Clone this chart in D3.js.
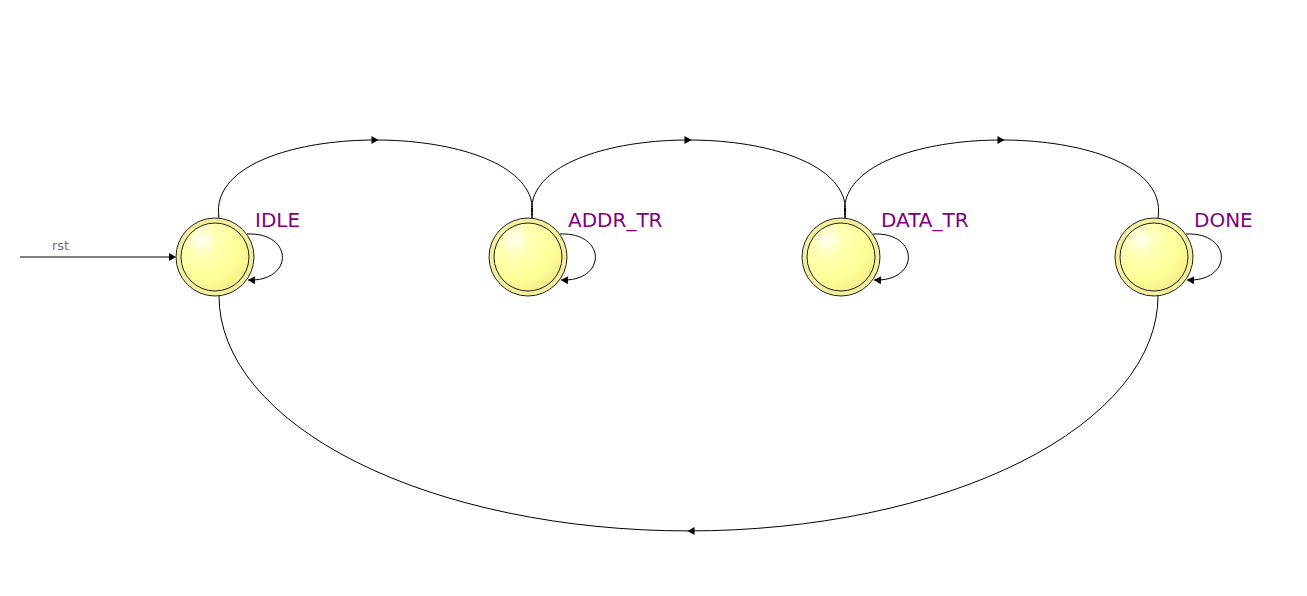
<!DOCTYPE html>
<html>
<head>
<meta charset="utf-8">
<script src="https://cdn.jsdelivr.net/npm/d3@7"></script>
<style>
  body { margin: 0; background: #fff; }
  svg { display: block; }
</style>
</head>
<body>
<script>
// states of the fsm, left to right
var states = ["IDLE", "ADDR_TR", "DATA_TR", "DONE"];
// transitions between states (from, to)
var transitions = [["IDLE", "ADDR_TR"], ["ADDR_TR", "DATA_TR"], ["DATA_TR", "DONE"], ["DONE", "IDLE"]];
// states with a self loop
var selfLoops = ["IDLE", "ADDR_TR", "DATA_TR", "DONE"];
// reset entry
var resetLabel = "rst";
var resetState = "IDLE";

var width = 1307;
var height = 596;
var cy = 257;
var rOuter = 39, rInner = 34;

var svg = d3.select("body").append("svg")
  .attr("width", width)
  .attr("height", height);

var xScale = d3.scalePoint()
  .domain(states)
  .range([215, 1154]);

// fill gradient of the state bubbles
var defs = svg.append("defs");
var grad = defs.append("radialGradient")
  .attr("id", "bubble")
  .attr("cx", "30%").attr("cy", "25%").attr("r", "80%");
grad.append("stop").attr("offset", "0%").attr("stop-color", "#fffff2");
grad.append("stop").attr("offset", "30%").attr("stop-color", "#ffffb4");
grad.append("stop").attr("offset", "70%").attr("stop-color", "#ffff99");
grad.append("stop").attr("offset", "100%").attr("stop-color", "#f6f18a");

var arrowHead = function(g, x, y, angle)
{
  g.append("path")
    .attr("d", "M0,0 L-7,-4 L-7,4 Z")
    .attr("fill", "#000")
    .attr("transform", "translate(" + x + "," + y + ") rotate(" + angle + ")");
}

var edges = svg.append("g").attr("fill", "none").attr("stroke", "#000").attr("stroke-width", 1);
var heads = svg.append("g");

transitions.forEach(function(t)
{
  var xa = xScale(t[0]) + 4;
  var xb = xScale(t[1]) + 4;
  if (xb > xa)
  {
    // forward arc over the top
    var y0 = cy - rOuter;
    edges.append("path")
      .attr("d", "M" + xa + "," + y0 + " C" + (xa - 17) + ",114 " + (xb + 17) + ",114 " + xb + "," + y0);
    arrowHead(heads, (xa + xb) / 2 + 3, 140, 0);
  }
  else
  {
    // return arc underneath
    var y1 = cy + rOuter;
    var rx = (xa - xb) / 2;
    edges.append("path")
      .attr("d", "M" + xa + "," + y1 + " A" + rx + " 235 0 0 1 " + xb + "," + y1);
    arrowHead(heads, (xa + xb) / 2 - 1, y1 + 235, 180);
  }
});

// self loops on the right side
selfLoops.forEach(function(s)
{
  var cx = xScale(s);
  edges.append("path")
    .attr("d", "M" + (cx + 32) + "," + (cy - 23) + " C" + (cx + 79) + "," + (cy - 25) + " " + (cx + 79) + "," + (cy + 25) + " " + (cx + 33) + "," + (cy + 23));
  arrowHead(heads, cx + 33, cy + 23, 180 + Math.atan2(2, 46) * 180 / Math.PI);
});

// reset arrow
var rx0 = xScale(resetState) - rOuter;
edges.append("line")
  .attr("x1", 20).attr("y1", cy)
  .attr("x2", rx0 - 4).attr("y2", cy);
arrowHead(heads, rx0, cy, 0);
svg.append("text")
  .attr("x", 52).attr("y", 250)
  .attr("font-family", "DejaVu Sans, sans-serif")
  .attr("font-size", 13)
  .attr("fill", "#707070")
  .text(resetLabel);

// state bubbles
var nodes = svg.selectAll(".state")
  .data(states)
  .enter().append("g")
  .attr("class", "state")
  .attr("transform", function(d){ return "translate(" + xScale(d) + "," + cy + ")"; });

nodes.append("circle")
  .attr("r", rOuter)
  .attr("fill", "#f4ef9c")
  .attr("stroke", "#222")
  .attr("stroke-width", 1);
nodes.append("circle")
  .attr("r", rInner)
  .attr("fill", "url(#bubble)")
  .attr("stroke", "#222")
  .attr("stroke-width", 1);

nodes.append("text")
  .attr("x", 40)
  .attr("y", -30)
  .attr("font-family", "DejaVu Sans, sans-serif")
  .attr("font-size", 20)
  .attr("fill", "#800080")
  .text(function(d){ return d; });

// redraw heads on top of the bubbles
svg.node().appendChild(heads.node());
</script>
</body>
</html>
